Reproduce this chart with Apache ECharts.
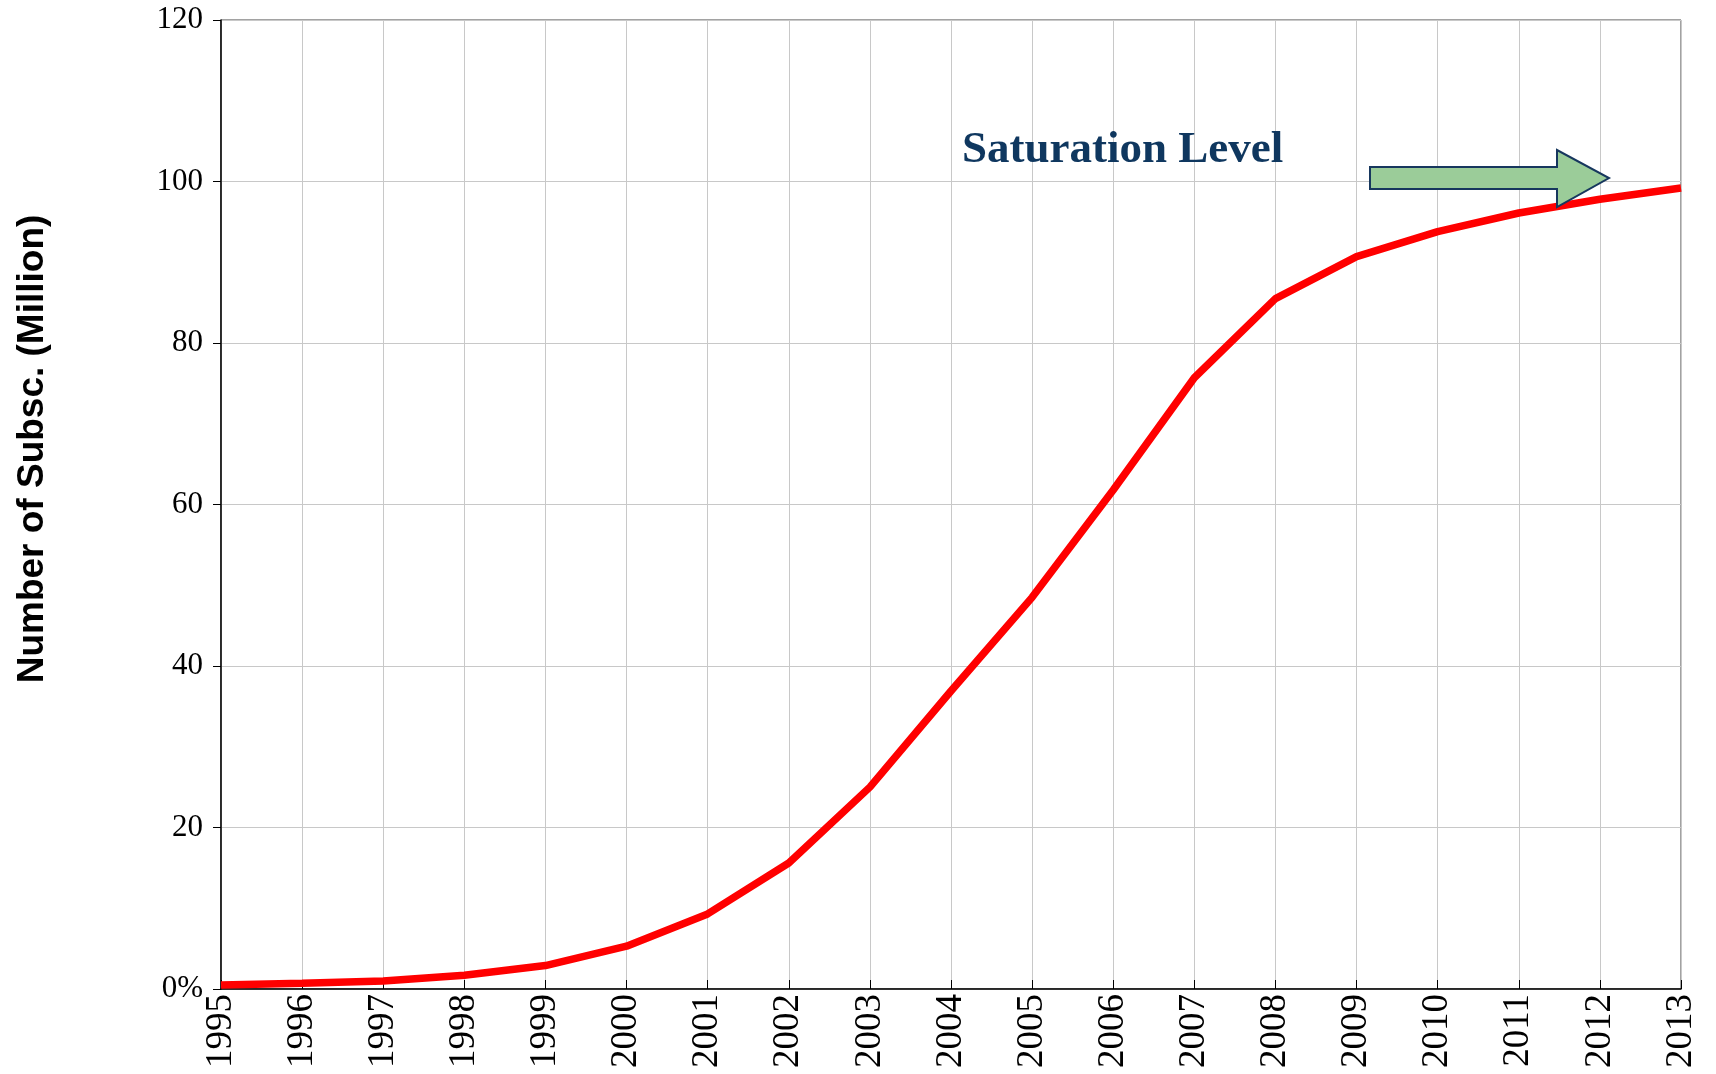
<!DOCTYPE html>
<html>
<head>
<meta charset="utf-8">
<script src="https://cdn.jsdelivr.net/npm/echarts@6/dist/echarts.min.js"></script>
<style>
html,body{margin:0;padding:0;background:#fff;}
#chart{width:1716px;height:1074px;}
</style>
</head>
<body>
<div id="chart"></div>
<script>
const years = ['1995','1996','1997','1998','1999','2000','2001','2002','2003','2004','2005','2006','2007','2008','2009','2010','2011','2012','2013'];
const subscribers = [0.5, 0.7, 1.0, 1.7, 2.9, 5.3, 9.3, 15.6, 25.0, 36.9, 48.5, 61.8, 75.7, 85.5, 90.7, 93.8, 96.1, 97.8, 99.2];
const yTicks = [0, 20, 40, 60, 80, 100, 120];
const yTitle = 'Number of Subsc. (Million)';
const annotationText = 'Saturation Level';

const chart = echarts.init(document.getElementById('chart'), null, {renderer: 'canvas'});
const serif = '"Liberation Serif", "Times New Roman", serif';
chart.setOption({
  animation: false,
  backgroundColor: '#ffffff',
  grid: {left: 221, right: 35, top: 20, bottom: 85, show: true, borderColor: '#444', borderWidth: 1, containLabel: false},
  xAxis: {
    type: 'category',
    data: years,
    boundaryGap: false,
    axisLine: {show: true, lineStyle: {color: '#000', width: 1.5}},
    axisTick: {show: true, inside: true, length: 9, alignWithLabel: true, lineStyle: {color: '#000'}},
    axisLabel: {rotate: 90, margin: 5, fontFamily: serif, fontSize: 37, color: '#000', interval: 0},
    splitLine: {show: true, lineStyle: {color: '#c8c8c8', width: 1}}
  },
  yAxis: {
    type: 'value',
    min: yTicks[0],
    max: yTicks[yTicks.length - 1],
    interval: yTicks[1] - yTicks[0],
    axisLine: {show: true, lineStyle: {color: '#000', width: 1.5}},
    axisTick: {show: true, length: 8, lineStyle: {color: '#000'}},
    axisLabel: {
      margin: 18, fontFamily: serif, fontSize: 31, color: '#000',
      formatter: function (v) { return v === 0 ? '0%' : String(v); }
    },
    splitLine: {show: true, lineStyle: {color: '#c8c8c8', width: 1}}
  },
  series: [{
    type: 'line',
    data: subscribers,
    symbol: 'none',
    lineStyle: {color: '#ff0000', width: 7.5},
    itemStyle: {color: '#ff0000'},
    z: 5
  }],
  graphic: [
    {
      type: 'text',
      x: 33, y: 449,
      rotation: Math.PI / 2,
      style: {
        text: yTitle,
        font: 'bold 37px "Liberation Sans", Arial, sans-serif',
        fill: '#000',
        textAlign: 'center',
        textVerticalAlign: 'middle'
      }
    },
    {
      type: 'text',
      x: 962, y: 173,
      style: {
        text: annotationText,
        font: 'bold 45px "Liberation Serif", "Times New Roman", serif',
        fill: '#0f375f',
        textAlign: 'left',
        textVerticalAlign: 'bottom'
      },
      z: 10
    },
    {
      type: 'polygon',
      shape: {points: [[1370,167],[1557,167],[1557,150],[1609,178],[1557,207],[1557,189],[1370,189]]},
      style: {fill: '#9bcc99', stroke: '#17375e', lineWidth: 2},
      z: 10
    }
  ]
});
</script>
</body>
</html>
